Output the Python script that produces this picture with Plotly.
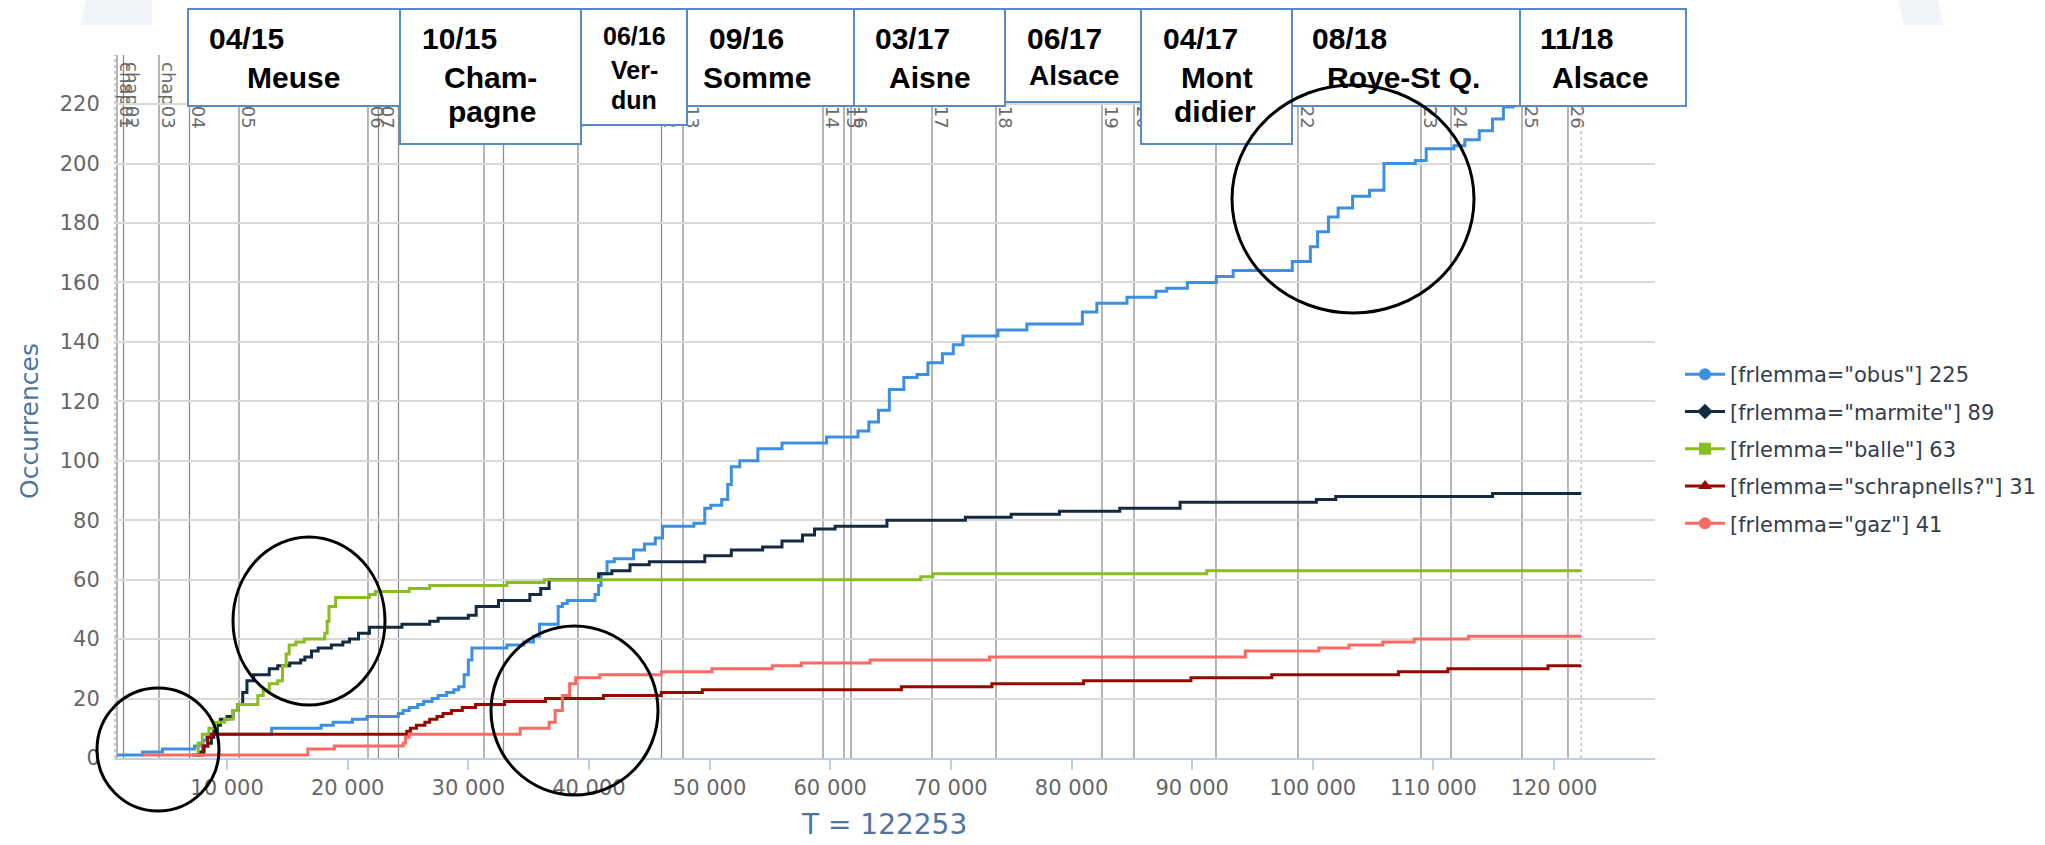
import plotly.graph_objects as go

# ---------------- data ----------------
T_END = 122253

obus_T = [900, 3000, 4650, 7300, 7700, 8000, 8300, 8600, 13700, 17800, 18800, 20400, 21600,
          24200, 24600, 25100, 25800, 26300, 27000, 27500, 28200, 28800, 29200, 29650, 30000,
          30300, 33200, 34600, 35400, 35900, 37450, 37800, 38200, 40500, 40800, 41000, 41500,
          42100, 43700, 44600, 45500, 46100, 48700, 49600, 50100, 51000, 51500, 51800, 52500,
          54000, 56000, 59700, 62300, 63200, 64000, 64900, 66100, 67200, 68100, 69300, 70200,
          71000, 73900, 76300, 80900, 82100, 84600, 87000, 87900, 89600, 92000, 93400, 98300,
          99800, 100400, 101300, 102100, 103300, 104700, 105900, 108500, 109400, 111700, 112600,
          113800, 114900, 115800, 116600, 117500]
obus_v = [1, 2, 3, 4, 5, 6, 7, 8, 10, 11, 12, 13, 14,
          15, 16, 17, 18, 19, 20, 21, 22, 23, 24, 28, 33,
          37, 38, 39, 41, 45, 51, 52, 53, 55, 58, 62, 66,
          67, 70, 72, 74, 78, 79, 84, 85, 87, 92, 98, 100,
          104, 106, 108, 110, 113, 117, 124, 128, 129, 133, 136, 139,
          142, 144, 146, 150, 153, 155, 157, 158, 160, 162, 164, 167,
          172, 177, 182, 185, 189, 191, 200, 201, 205, 206, 208,
          211, 215, 219, 222, 225]

marmite_T = [7100, 7700, 8100, 8400, 8700, 8900, 9200, 9450, 10000, 10500, 10900, 11300, 11650,
             12200, 13500, 14200, 15200, 16100, 16450, 17000, 17550, 18650, 19600, 20150, 20900,
             21800, 24500, 26800, 27500, 30000, 30650, 32500, 35100, 36000, 36700, 40800, 41900,
             43400, 45000, 49600, 51800, 54400, 56000, 57700, 58700, 60400, 64700, 71200, 75000,
             79000, 84000, 89000, 100300, 101900, 114900]
marmite_v = [1, 2, 4, 5, 7, 9, 11, 13, 14, 16, 18, 22, 26,
             28, 30, 31, 32, 33, 34, 36, 37, 38, 39, 40, 42,
             44, 45, 46, 47, 48, 51, 53, 55, 57, 60, 62, 63,
             65, 66, 68, 70, 71, 73, 75, 77, 78, 80, 81, 82,
             83, 84, 86, 87, 88, 89]

balle_T = [7300, 7600, 7950, 8500, 9050, 9800, 10500, 10900, 12550, 13000, 13500, 14200, 14600,
           14900, 15150, 15700, 16400, 18100, 18300, 18450, 19000, 21800, 22300, 25100, 26800,
           33200, 36300, 67500, 68500, 91200]
balle_v = [1, 5, 8, 10, 12, 13, 16, 18, 21, 23, 25, 26, 31,
           35, 38, 39, 40, 42, 46, 51, 54, 55, 56, 57, 58,
           59, 60, 61, 62, 63]

schrap_T = [7500, 8000, 8400, 8700, 24900, 25200, 25700, 26400, 26800, 27400, 27900, 28600,
            29500, 30600, 33000, 36400, 41200, 46000, 49400, 65900, 73400, 81000, 89900, 96600,
            107100, 111200, 117600, 119500]
schrap_v = [1, 4, 7, 8, 9, 10, 11, 12, 13, 14, 15, 16,
            17, 18, 19, 20, 21, 22, 23, 24, 25, 26, 27, 28,
            29, 30, 30, 31]

gaz_T = [3000, 16700, 18900, 24600, 24800, 25100, 34300, 36700, 37200, 37800, 38400, 38900,
         40900, 46000, 50200, 55200, 57600, 63300, 73200, 94400, 100500, 103000, 105800,
         108400, 112900]
gaz_v = [1, 3, 4, 5, 7, 8, 10, 12, 16, 21, 25, 27,
         28, 29, 30, 31, 32, 33, 34, 36, 37, 38, 39,
         40, 41]

series_names = ['[frlemma="obus"] 225', '[frlemma="marmite"] 89', '[frlemma="balle"] 63',
                '[frlemma="schrapnells?"] 31', '[frlemma="gaz"] 41']

chapter_labels = ["chap01", "chap02", "chap03", "chap04", "chap05", "chap06", "chap07",
                  "chap08", "chap09", "chap10", "chap11", "chap12", "chap13", "chap14",
                  "chap15", "chap16", "chap17", "chap18", "chap19", "chap20", "chap21",
                  "chap22", "chap23", "chap24", "chap25", "chap26"]
chapter_T = [880, 1417, 4360, 6888, 10991, 21684, 22554, 24212, 31299, 32916, 39091, 46013,
             47795, 59400, 61140, 61721, 68435, 73740, 82527, 85179, 91976, 98773, 108969,
             111456, 117341, 121154]

x_tick_vals = [10000, 20000, 30000, 40000, 50000, 60000, 70000, 80000, 90000, 100000,
               110000, 120000]
x_tick_text = ["10 000", "20 000", "30 000", "40 000", "50 000", "60 000", "70 000",
               "80 000", "90 000", "100 000", "110 000", "120 000"]
y_tick_vals = [0, 20, 40, 60, 80, 100, 120, 140, 160, 180, 200, 220]

battle_dates = ["04/15", "10/15", "06/16", "09/16", "03/17", "06/17", "04/17", "08/18", "11/18"]
battle_places = [["Meuse"], ["Cham-", "pagne"], ["Ver-", "dun"], ["Somme"], ["Aisne"],
                 ["Alsace"], ["Mont", "didier"], ["Roye-St Q."], ["Alsace"]]

# ---------------- styling / geometry ----------------
W, H = 2045, 845
L, R, TOP, BOT = 115, 1655, 55, 758
PW, PH = R - L, BOT - TOP
X_MIN, X_MAX = 713, 128367
Y_MAX = 236.5
HC_FONT = "DejaVu Sans, Verdana, sans-serif"


def px(x):
    return (x - L) / PW


def py(y):
    return (BOT - y) / PH


colors = ["#3d8fe0", "#142a40", "#8bbc21", "#950a00", "#fa6a64"]
symbols = ["circle", "diamond", "square", "triangle-up", "circle"]
all_T = [obus_T, marmite_T, balle_T, schrap_T, gaz_T]
all_v = [obus_v, marmite_v, balle_v, schrap_v, gaz_v]

fig = go.Figure()
for T, v, c in zip(all_T, all_v, colors):
    fig.add_trace(go.Scatter(x=T + [T_END], y=v + [v[-1]], mode="lines",
                             line=dict(color=c, width=3, shape="hv"),
                             showlegend=False, hoverinfo="skip"))
for name, c, s in zip(series_names, colors, symbols):
    fig.add_trace(go.Scatter(x=[None], y=[None], mode="lines+markers", name=name,
                             legendgroup=name,
                             line=dict(color=c, width=3),
                             marker=dict(symbol=s, size=12, color=c)))

shapes = []
# faint watermark shapes at the top
shapes.append(dict(type="path", xref="paper", yref="paper", layer="below",
                   path="M %f %f L %f %f L %f %f L %f %f Z" % (px(86), py(0), px(152), py(0),
                                                              px(152), py(25), px(80), py(25)),
                   fillcolor="#f1f4f9", line=dict(width=0)))
shapes.append(dict(type="path", xref="paper", yref="paper", layer="below",
                   path="M %f %f L %f %f L %f %f L %f %f Z" % (px(1898), py(0), px(1938), py(0),
                                                              px(1944), py(25), px(1904), py(25)),
                   fillcolor="#f1f4f9", line=dict(width=0)))
# chapter plot lines
for t in chapter_T:
    shapes.append(dict(type="line", xref="x", yref="paper", x0=t, x1=t, y0=0, y1=1,
                       layer="between", line=dict(color="#8e8e8e", width=1.3)))
# rotated chapter labels, carried by invisible line segments whose upper end is 7 px
# below the top of the plot area
for lab, t in zip(chapter_labels, chapter_T):
    shapes.append(dict(type="line", xref="x", yref="paper", x0=t, x1=t,
                       y0=py(400), y1=py(62),
                       layer="between", line=dict(color="rgba(0,0,0,0)", width=1),
                       label=dict(text=lab, textangle=90, textposition="end",
                                  xanchor="left", yanchor="bottom", padding=0,
                                  font=dict(family=HC_FONT, size=18, color="#6a6a6a"))))
# dotted start / end lines
shapes.append(dict(type="line", xref="paper", yref="paper", x0=0, x1=0, y0=0, y1=1,
                   layer="between", line=dict(color="#b0b0b0", width=1.2, dash="dot")))
shapes.append(dict(type="line", xref="x", yref="paper", x0=T_END, x1=T_END, y0=0, y1=1,
                   layer="between", line=dict(color="#c4c4c4", width=1.5, dash="dot")))

# annotation boxes (pixel geometry)
boxes = [(188, 400, 9, 106), (400, 581, 9, 144), (581, 687, 9, 125), (687, 854, 9, 106),
         (854, 1005, 9, 106), (1005, 1141, 9, 102), (1141, 1292, 9, 144), (1292, 1520, 9, 106),
         (1520, 1686, 9, 106)]
for x0, x1, y0, y1 in boxes:
    shapes.append(dict(type="rect", xref="paper", yref="paper", layer="above",
                       x0=px(x0), x1=px(x1), y0=py(y1), y1=py(y0),
                       fillcolor="white", line=dict(color="#5a8ac6", width=2)))

# hand-drawn ellipses
ellipses = [(97, 219, 688, 811), (233, 385, 537, 705), (491, 658, 626, 795),
            (1232, 1474, 85, 313)]
for x0, x1, y0, y1 in ellipses:
    shapes.append(dict(type="circle", xref="paper", yref="paper", layer="above",
                       x0=px(x0), x1=px(x1), y0=py(y1), y1=py(y0),
                       line=dict(color="black", width=3)))

annotations = []
# text positions in the boxes: (x of date, [(x, y) of each place line], size, centered)
text_pos = [
    (207, [(245, 77.5)], 30, False),
    (420, [(442, 77.5), (446, 111)], 30, False),
    (634, [(634, 70), (634, 100)], 25, True),
    (707, [(701, 77.5)], 30, False),
    (873, [(887, 77.5)], 30, False),
    (1025, [(1027, 75)], 28, False),
    (1161, [(1179, 77.5), (1172, 112)], 30, False),
    (1310, [(1325, 77.5)], 30, False),
    (1538, [(1550, 77.5)], 30, False),
]
bold = "Liberation Sans, Arial, sans-serif"
for date, places, (dx, lines, size, centered) in zip(battle_dates, battle_places, text_pos):
    anc = "center" if centered else "left"
    dy = 36.5 if centered else 39
    dsize = 25 if centered else 30
    annotations.append(dict(xref="paper", yref="paper", x=px(dx), y=py(dy), text="<b>%s</b>" % date,
                            showarrow=False, xanchor=anc, yanchor="middle",
                            font=dict(family=bold, size=dsize, color="black")))
    for txt, (lx, ly) in zip(places, lines):
        annotations.append(dict(xref="paper", yref="paper", x=px(lx), y=py(ly),
                                text="<b>%s</b>" % txt, showarrow=False, xanchor=anc,
                                yanchor="middle",
                                font=dict(family=bold, size=size, color="black")))

# axis titles
annotations.append(dict(xref="paper", yref="paper", x=px(29), y=py(421), text="Occurrences",
                        textangle=-90, showarrow=False, xanchor="center", yanchor="middle",
                        font=dict(family=HC_FONT, size=25, color="#4d759e")))
annotations.append(dict(xref="paper", yref="paper", x=px(884), y=py(824), text="T = 122253",
                        showarrow=False, xanchor="center", yanchor="middle",
                        font=dict(family=HC_FONT, size=28, color="#4d759e")))

fig.update_layout(
    width=W, height=H,
    margin=dict(l=L, r=W - R, t=TOP, b=H - BOT, autoexpand=False),
    paper_bgcolor="white", plot_bgcolor="white",
    shapes=shapes, annotations=annotations,
    showlegend=True,
    legend=dict(x=px(1680), y=py(354), xanchor="left", yanchor="top",
                traceorder="grouped", tracegroupgap=7, itemwidth=40,
                bgcolor="rgba(0,0,0,0)",
                font=dict(family=HC_FONT, size=21, color="#333d4b")),
    xaxis=dict(range=[X_MIN, X_MAX], tickvals=x_tick_vals, ticktext=x_tick_text,
               showgrid=False, zeroline=False, showline=True, linecolor="#c0d0e0",
               linewidth=2, ticks="outside", ticklen=10, tickcolor="#c0d0e0", tickwidth=1.5,
               tickfont=dict(family=HC_FONT, size=21, color="#666666")),
    yaxis=dict(range=[0, Y_MAX], tickvals=y_tick_vals, showgrid=True, gridcolor="#d9d9d9",
               gridwidth=2, zeroline=False, showline=False, ticks="outside", ticklen=10,
               tickcolor="rgba(0,0,0,0)",
               tickfont=dict(family=HC_FONT, size=21, color="#666666")),
)

fig.write_html("out.html", config={"displayModeBar": False},
               post_script="document.body.style.margin='0';document.body.style.overflow='hidden';")
